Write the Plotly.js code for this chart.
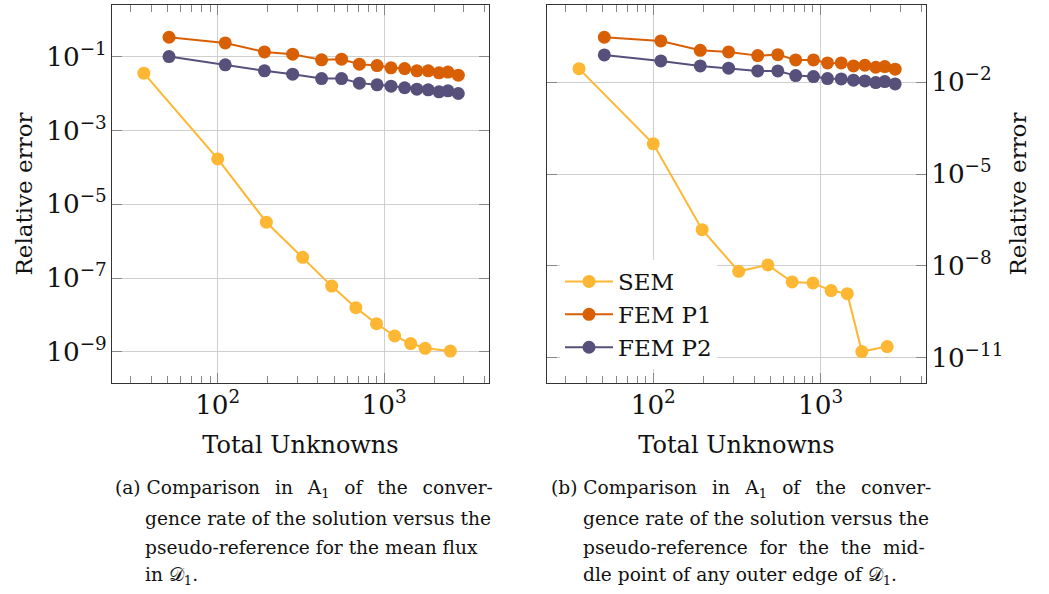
<!DOCTYPE html>
<html>
<head>
<meta charset="utf-8">
<script src="https://cdn.plot.ly/plotly-3.0.1.min.js"></script>
<style>
html,body{margin:0;padding:0;background:#fff;}
#chart{width:1049px;height:594px;}
</style>
</head>
<body>
<div id="chart"></div>
<script>
// ---- data ----
const semUnknowns = [36, 100, 196, 324, 484, 676, 900, 1156, 1444, 1764, 2500];
const femUnknowns = [51, 111, 191, 282, 421, 555, 710, 907, 1100, 1328, 1573, 1840, 2136, 2418, 2790];

// (a) mean flux
const semA  = [3.56e-2, 1.69e-4, 3.27e-6, 3.67e-7, 6.08e-8, 1.58e-8, 5.86e-9, 2.71e-9, 1.69e-9, 1.26e-9, 1.06e-9];
const femP1A = [0.334, 0.234, 0.134, 0.116, 0.0815, 0.085, 0.0624, 0.0571, 0.0495, 0.0474, 0.0411, 0.0411, 0.0363, 0.038, 0.0314];
const femP2A = [0.100, 0.0597, 0.0411, 0.0334, 0.0254, 0.0254, 0.0191, 0.0172, 0.0158, 0.0143, 0.0131, 0.0126, 0.0111, 0.0118, 0.0100];

// (b) middle point of outer edge
const semB  = [2.77e-2, 9.73e-5, 1.53e-7, 6.68e-9, 1.08e-8, 3.01e-9, 2.79e-9, 1.57e-9, 1.25e-9, 1.61e-11, 2.34e-11];
const femP1B = [0.293, 0.222, 0.110, 0.0973, 0.0737, 0.0794, 0.0533, 0.0533, 0.0426, 0.0426, 0.034, 0.0358, 0.0308, 0.0323, 0.0266];
const femP2B = [0.0776, 0.0495, 0.034, 0.0286, 0.0233, 0.0233, 0.0164, 0.0152, 0.0131, 0.0128, 0.0116, 0.0110, 0.0097, 0.0105, 0.0088];

const seriesNames = ['SEM', 'FEM P1', 'FEM P2'];
const xTitle = 'Total Unknowns';
const yTitle = 'Relative error';
const NB = '\u00A0';
const GA = '\u2002\u2009\u200A';   // widened word gap (justified line, panel a)
const GB = '\u2002\u00A0';         // widened word gap (justified line, panel b)
const captionALines = [
  ['(a) Comparison', 'in', 'A<sub>1</sub>', 'of', 'the', 'conver-'].join(GA),
  'gence rate of the solution versus the',
  'pseudo-reference for the mean flux',
  'in 𝒟<sub>1</sub>.'
];
const captionBLines = [
  ['(b) Comparison', 'in', 'A<sub>1</sub>', 'of', 'the', 'conver-'].join(GB),
  'gence rate of the solution versus the',
  ['pseudo-reference', 'for', 'the', 'the', 'mid-'].join(NB + NB),
  'dle point of any outer edge of 𝒟<sub>1</sub>.'
];

// ---- style ----
const colors = ['#fdb732', '#d95f04', '#56507b'];
const FONT = 'DejaVu Serif, serif';

function tr(x, y, i, xa, ya, showlegend) {
  return {
    x: x, y: y, name: seriesNames[i], type: 'scatter', mode: 'lines+markers',
    xaxis: xa, yaxis: ya, showlegend: showlegend, legendgroup: 'g' + i,
    line: {color: colors[i], width: 2},
    marker: {color: colors[i], size: 13}
  };
}

const data = [
  tr(semUnknowns, semA, 0, 'x', 'y', false),
  tr(femUnknowns, femP1A, 1, 'x', 'y', false),
  tr(femUnknowns, femP2A, 2, 'x', 'y', false),
  tr(semUnknowns, semB, 0, 'x2', 'y2', true),
  tr(femUnknowns, femP1B, 1, 'x2', 'y2', true),
  tr(femUnknowns, femP2B, 2, 'x2', 'y2', true)
];

function xax(domain, anchor) {
  return {
    type: 'log', domain: domain, anchor: anchor, range: [1.365, 3.63],
    dtick: 1, exponentformat: 'power', showexponent: 'all',
    ticks: 'inside', ticklen: 10, tickcolor: '#888', tickwidth: 1,
    mirror: 'allticks', showline: true, linecolor: '#333', linewidth: 1,
    showgrid: true, gridcolor: '#cfcfcf', gridwidth: 1, zeroline: false,
    minor: {ticks: 'inside', ticklen: 7, tickcolor: '#888', dtick: 'D1', showgrid: false},
    tickfont: {family: FONT, size: 21, color: '#111'},
    title: {text: xTitle, font: {family: FONT, size: 24, color: '#111'}, standoff: 16}
  };
}
function yax(domain, anchor, range, tick0, dtick, side) {
  return {
    type: 'log', domain: domain, anchor: anchor, range: range, side: side,
    tick0: tick0, dtick: dtick, exponentformat: 'power', showexponent: 'all',
    ticks: 'inside', ticklen: 10, tickcolor: '#888', tickwidth: 1,
    mirror: 'allticks', showline: true, linecolor: '#333', linewidth: 1,
    showgrid: true, gridcolor: '#cfcfcf', gridwidth: 1, zeroline: false,
    tickfont: {family: FONT, size: 21, color: '#111'},
    title: {text: yTitle, font: {family: FONT, size: 23, color: '#111'}, standoff: 7}
  };
}

const captionLineY = [489, 518, 547, 576];
const annotations = [];
captionALines.forEach((t, k) => annotations.push({
  text: t, xref: 'paper', yref: 'paper', x: (k === 0 ? 113 : 143) / 1049, y: 1 - captionLineY[k] / 594,
  xanchor: 'left', yanchor: 'middle', align: 'left', showarrow: false,
  font: {family: FONT, size: 18.6, color: '#111'}
}));
captionBLines.forEach((t, k) => annotations.push({
  text: t, xref: 'paper', yref: 'paper', x: (k === 0 ? 549 : 581) / 1049, y: 1 - captionLineY[k] / 594,
  xanchor: 'left', yanchor: 'middle', align: 'left', showarrow: false,
  font: {family: FONT, size: 18.6, color: '#111'}
}));

const layout = {
  width: 1049, height: 594,
  margin: {l: 0, r: 0, t: 0, b: 0},
  paper_bgcolor: '#fff', plot_bgcolor: '#fff',
  font: {family: FONT, color: '#111'},
  showlegend: true,
  xaxis: xax([112/1049, 489/1049], 'y'),
  yaxis: yax([1 - 383/594, 1 - 5/594], 'x', [-9.84, 0.397], -1, 2, 'left'),
  xaxis2: xax([547/1049, 926/1049], 'y2'),
  yaxis2: yax([1 - 383/594, 1 - 5/594], 'x2', [-11.82, 0.52], -2, 3, 'right'),
  legend: {
    x: 560/1049, y: 1 - 260/594, xanchor: 'left', yanchor: 'top',
    bgcolor: '#fff', borderwidth: 0, tracegroupgap: 0, traceorder: 'grouped',
    font: {family: FONT, size: 23, color: '#111'},
    itemwidth: 48
  },
  annotations: annotations
};

Plotly.newPlot('chart', data, layout, {displayModeBar: false, staticPlot: true});
</script>
</body>
</html>
